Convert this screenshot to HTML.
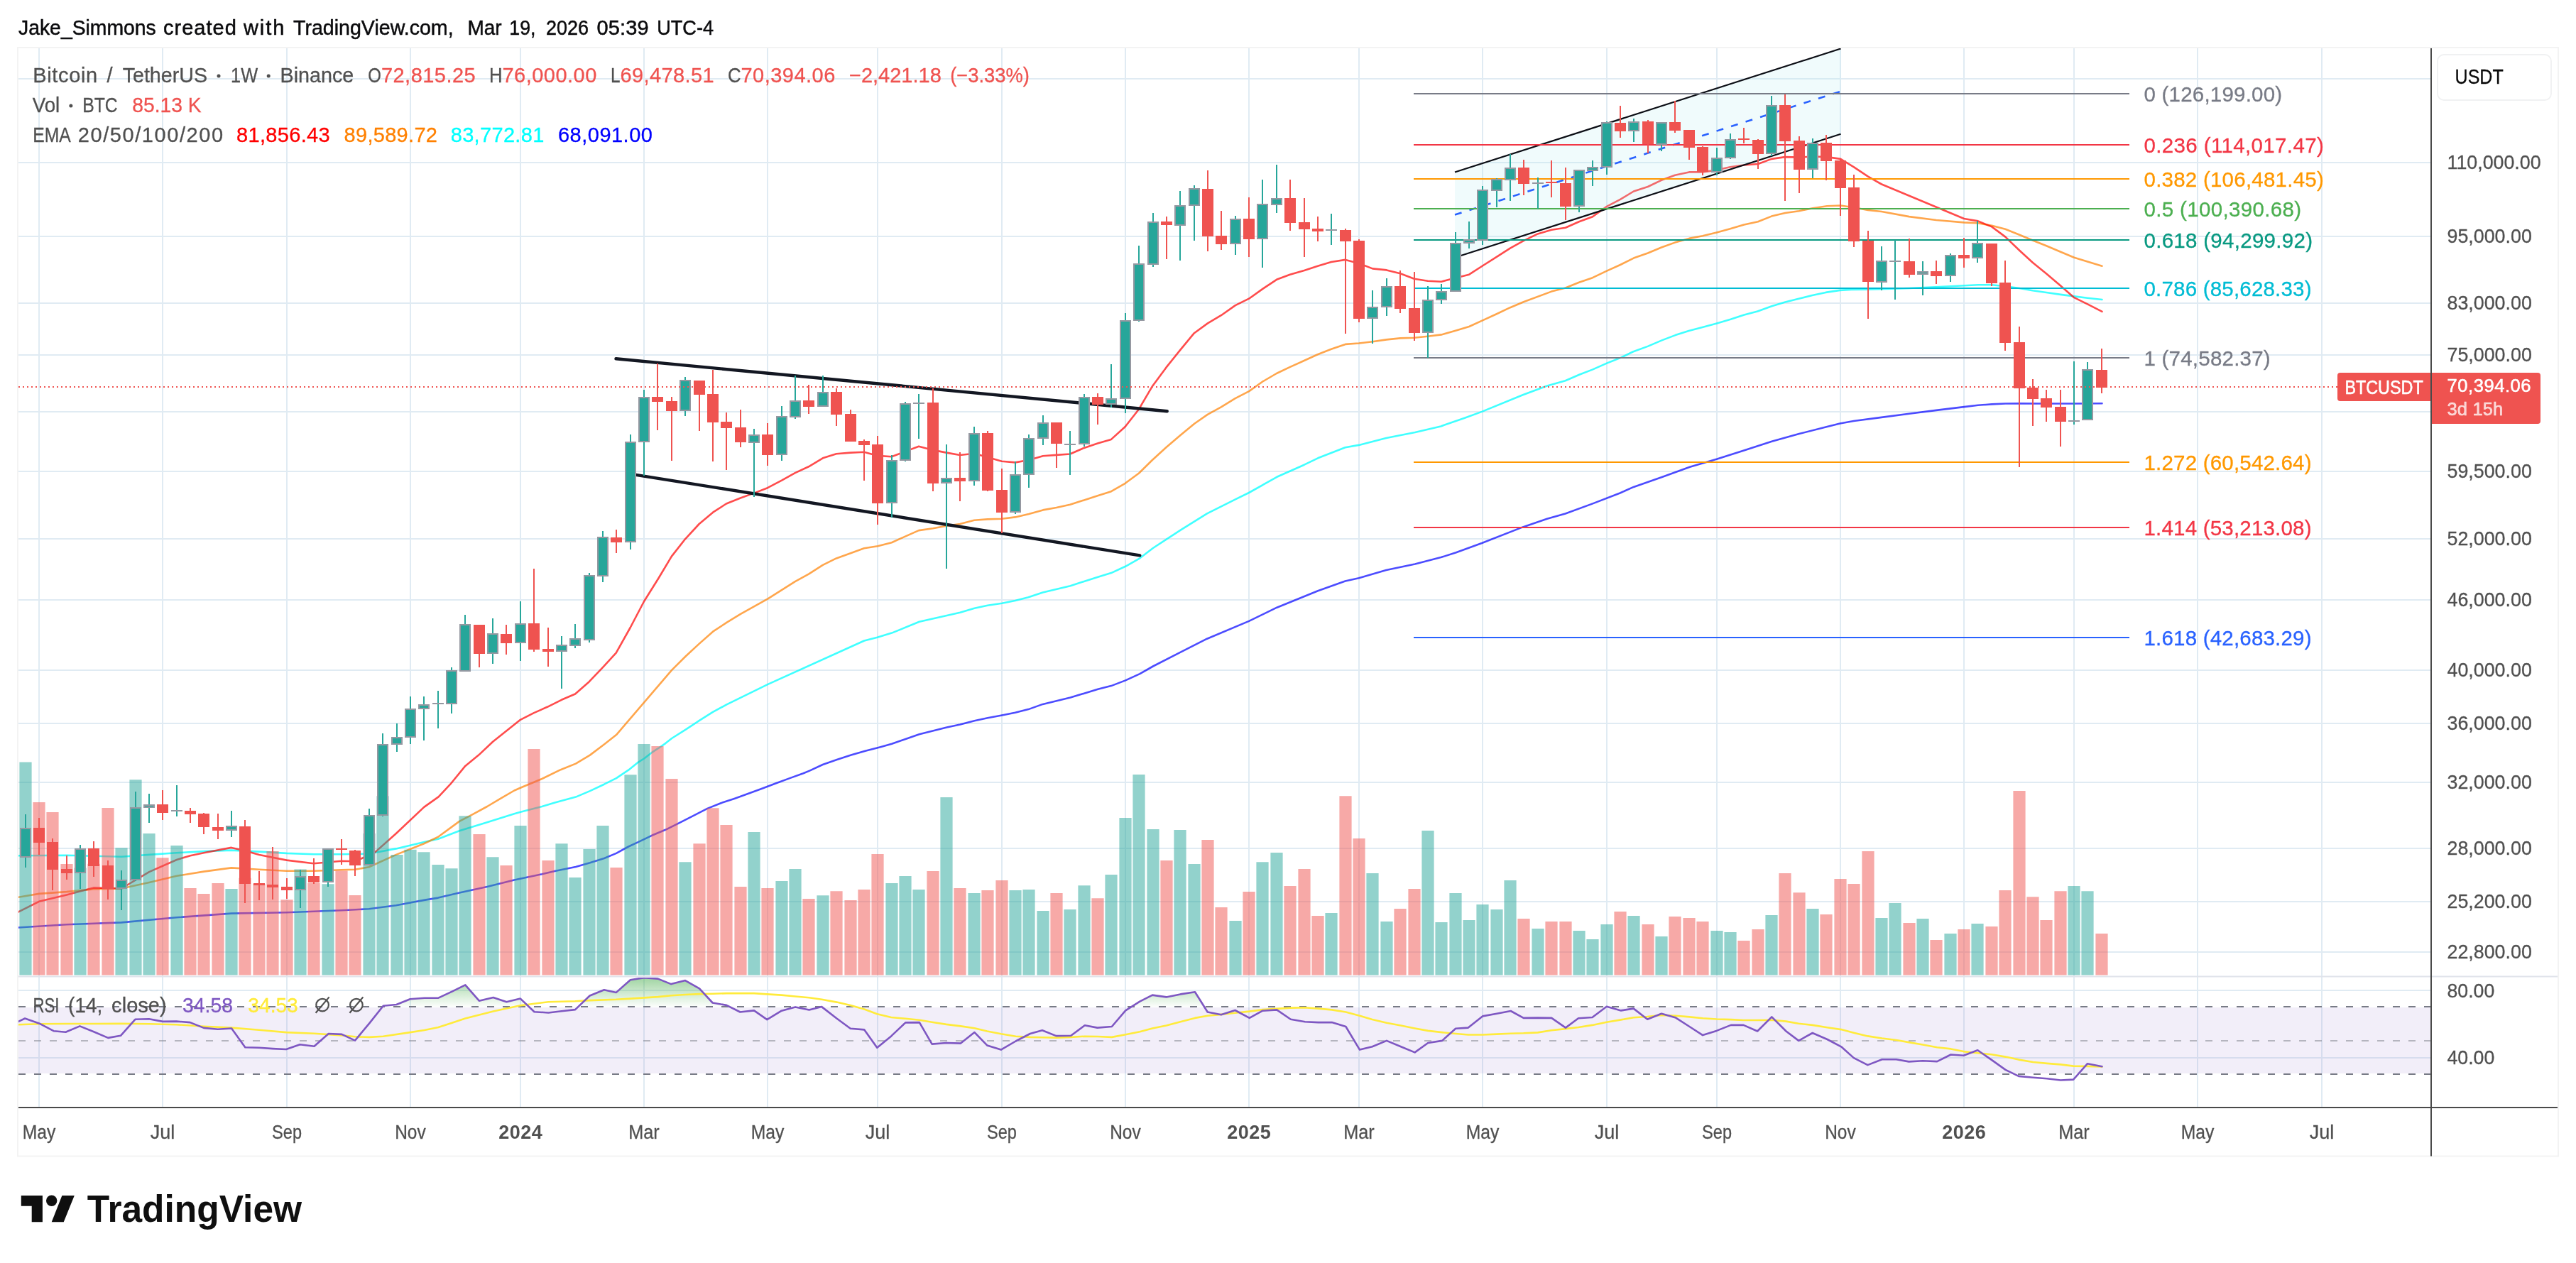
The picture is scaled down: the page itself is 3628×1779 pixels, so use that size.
<!DOCTYPE html>
<html><head><meta charset="utf-8"><title>BTCUSDT chart</title>
<style>html,body{margin:0;padding:0;background:#fff}svg{display:block;will-change:transform}</style></head>
<body>
<svg width="3628" height="1779" viewBox="0 0 3628 1779" font-family="Liberation Sans, sans-serif">
<rect width="3628" height="1779" fill="#fff"/>
<defs><clipPath id="cm"><rect x="26" y="68" width="3397" height="1307"/></clipPath><clipPath id="cr"><rect x="26" y="1377" width="3397" height="182"/></clipPath><linearGradient id="gg" x1="0" y1="1376" x2="0" y2="1418" gradientUnits="userSpaceOnUse"><stop offset="0" stop-color="#4caf50" stop-opacity="0.55"/><stop offset="1" stop-color="#4caf50" stop-opacity="0.02"/></linearGradient></defs>
<path d="M55 68V1559M229 68V1559M404 68V1559M578 68V1559M733 68V1559M907 68V1559M1081 68V1559M1236 68V1559M1411 68V1559M1585 68V1559M1759 68V1559M1914 68V1559M2088 68V1559M2263 68V1559M2418 68V1559M2592 68V1559M2766 68V1559M2921 68V1559M3095 68V1559M3270 68V1559M26 111H3423M26 229H3423M26 333H3423M26 427H3423M26 500H3423M26 580H3423M26 664H3423M26 759H3423M26 845H3423M26 944H3423M26 1019H3423M26 1102H3423M26 1195H3423M26 1270H3423M26 1341H3423M26 1395H3423M26 1490H3423" stroke="#e0ebf3" stroke-width="2" fill="none"/>
<rect x="26" y="1419" width="3397" height="93" fill="#7e57c2" fill-opacity="0.1"/>
<g clip-path="url(#cm)">
<path d="M25.7 1306.5 L93.8 1302.3 L171.0 1299.4 L248.9 1292.3 L325.8 1286.6 L403.6 1285.2 L481.2 1282.3 L519.7 1280.3 L557.9 1275.2 L598.6 1267.6 L617.1 1264.6 L647.0 1257.5 L686.1 1248.9 L724.3 1239.5 L763.3 1231.3 L782.4 1226.7 L810.9 1221.0 L830.9 1215.3 L850.9 1209.0 L868.0 1201.9 L885.1 1192.5 L899.3 1185.9 L918.1 1176.8 L937.2 1168.8 L957.2 1158.8 L976.3 1149.2 L996.2 1138.9 L1015.3 1131.2 L1034.2 1124.9 L1054.1 1117.8 L1073.2 1110.7 L1092.3 1103.5 L1112.3 1096.1 L1131.4 1089.3 L1140.2 1085.6 L1158.7 1077.0 L1178.7 1069.9 L1198.6 1063.6 L1218.6 1057.7 L1240.0 1052.2 L1255.9 1047.8 L1294.7 1034.2 L1333.5 1024.5 L1352.2 1020.5 L1372.4 1015.2 L1391.0 1011.2 L1411.2 1007.5 L1429.8 1003.7 L1448.4 999.1 L1468.6 991.9 L1507.5 982.6 L1546.3 970.8 L1564.9 966.1 L1585.1 958.4 L1605.3 949.1 L1623.9 938.5 L1662.7 918.6 L1700.0 899.7 L1759.0 874.9 L1798.4 855.7 L1856.1 832.2 L1894.6 818.5 L1913.8 814.2 L1952.3 803.1 L1992.9 794.5 L2029.3 785.1 L2050.7 778.3 L2087.0 765.0 L2144.7 742.4 L2178.9 730.8 L2204.6 723.5 L2243.1 709.4 L2281.6 694.5 L2300.8 685.9 L2341.4 671.8 L2379.9 657.7 L2418.4 646.6 L2456.9 634.2 L2495.4 621.8 L2533.9 611.1 L2572.4 601.2 L2591.4 596.5 L2610.7 593.0 L2649.8 587.9 L2688.8 582.8 L2727.0 577.9 L2766.1 573.1 L2785.8 570.8 L2805.2 569.4 L2824.3 568.5 L2844.2 568.2 L2882.1 568.5 L2921.2 568.5 L2960.5 568.2" stroke="#0000ff" stroke-width="2.6" fill="none" stroke-linejoin="round" stroke-linecap="round" stroke-opacity="0.7"/>
<path d="M25.7 1205.3 L93.8 1204.8 L171.0 1206.8 L210.1 1203.9 L248.9 1201.3 L287.1 1199.1 L325.8 1197.6 L364.9 1199.6 L403.6 1201.9 L441.8 1203.3 L481.2 1203.3 L519.7 1202.5 L557.9 1195.4 L598.6 1185.8 L617.1 1181.7 L647.0 1170.3 L686.1 1158.3 L724.3 1146.3 L734.0 1143.5 L763.3 1136.0 L782.4 1130.3 L810.9 1122.6 L830.9 1114.1 L850.9 1104.7 L868.0 1096.1 L885.1 1084.7 L899.3 1073.3 L907.1 1068.5 L918.1 1059.9 L927.6 1053.7 L937.2 1047.1 L946.1 1040.0 L966.1 1027.4 L984.6 1015.2 L1004.0 1002.9 L1023.4 992.4 L1081.5 963.9 L1217.1 902.5 L1235.7 897.8 L1255.9 891.6 L1294.7 875.8 L1333.5 867.1 L1352.2 862.7 L1372.4 856.8 L1391.0 852.8 L1411.2 849.7 L1429.8 846.0 L1448.4 841.3 L1468.6 834.5 L1507.5 825.2 L1546.3 812.7 L1564.9 807.1 L1585.1 797.8 L1605.3 786.3 L1623.9 772.0 L1662.7 746.6 L1700.0 723.3 L1740.4 703.1 L1759.0 694.0 L1798.4 671.8 L1836.8 654.7 L1856.1 645.3 L1894.6 630.3 L1913.8 626.9 L1952.3 617.1 L1992.9 608.9 L2029.3 600.4 L2063.5 588.4 L2087.0 579.9 L2144.7 556.3 L2178.9 543.5 L2204.6 536.2 L2224.8 527.5 L2242.7 520.6 L2263.0 511.6 L2282.6 503.9 L2299.7 495.5 L2320.6 487.9 L2340.5 479.4 L2359.5 472.1 L2378.5 465.9 L2398.5 460.7 L2418.0 455.4 L2437.4 449.7 L2456.4 443.6 L2475.4 438.5 L2495.3 431.3 L2514.3 425.6 L2533.3 420.8 L2552.3 416.1 L2571.3 411.9 L2591.3 408.9 L2607.4 407.9 L2630.7 407.8 L2688.8 406.0 L2747.0 403.2 L2785.8 401.2 L2805.2 401.2 L2824.3 403.2 L2844.2 406.0 L2862.7 409.2 L2882.1 412.0 L2902.1 414.9 L2921.2 417.4 L2940.0 419.7 L2960.5 422.0" stroke="#00ffff" stroke-width="2.6" fill="none" stroke-linejoin="round" stroke-linecap="round" stroke-opacity="0.75"/>
<path d="M25.7 1263.8 L55.0 1258.9 L93.8 1256.1 L131.7 1252.4 L171.0 1251.5 L210.1 1243.0 L248.9 1233.8 L287.1 1227.6 L325.8 1222.4 L364.9 1224.7 L403.6 1226.7 L441.8 1226.7 L481.2 1225.3 L500.0 1224.7 L519.7 1221.3 L557.9 1203.9 L597.2 1188.2 L616.8 1179.0 L647.0 1156.9 L666.1 1146.9 L686.1 1136.0 L705.2 1124.6 L724.3 1113.5 L734.0 1109.2 L763.3 1097.0 L789.6 1084.2 L810.9 1075.6 L830.9 1063.6 L850.9 1048.5 L868.0 1035.1 L946.1 943.9 L966.1 924.0 L984.6 906.9 L1004.0 889.7 L1023.4 876.9 L1043.0 864.9 L1081.5 843.3 L1119.8 819.2 L1138.9 808.7 L1158.8 795.8 L1177.9 786.4 L1197.9 779.3 L1217.0 772.2 L1236.1 769.3 L1255.8 764.2 L1274.9 755.6 L1294.0 747.1 L1313.9 744.2 L1333.0 740.8 L1352.1 738.0 L1372.1 732.8 L1390.9 731.4 L1410.8 730.8 L1429.9 728.4 L1449.0 724.1 L1468.9 718.4 L1487.8 715.0 L1507.1 710.7 L1526.8 704.4 L1545.9 698.2 L1565.0 692.2 L1584.7 680.8 L1604.1 666.5 L1622.9 648.0 L1642.3 630.3 L1662.2 613.2 L1682.2 596.7 L1700.7 583.9 L1719.8 573.3 L1739.7 561.1 L1759.1 551.1 L1777.9 537.7 L1797.9 526.0 L1817.0 516.9 L1836.1 508.3 L1855.8 499.2 L1874.9 491.8 L1894.8 484.9 L1913.9 483.5 L1933.0 481.2 L1952.7 478.4 L1972.1 476.4 L1991.7 475.8 L2010.9 473.7 L2030.0 471.4 L2050.0 465.7 L2069.1 460.0 L2087.9 451.4 L2107.8 442.3 L2126.9 433.2 L2145.8 425.2 L2185.1 410.6 L2204.8 405.5 L2223.9 397.8 L2243.0 391.2 L2262.9 381.6 L2282.0 373.0 L2300.8 363.6 L2320.8 356.5 L2339.9 348.5 L2359.0 341.6 L2378.9 335.9 L2398.0 332.2 L2417.7 327.4 L2436.8 322.3 L2456.2 316.6 L2475.9 312.3 L2495.0 304.6 L2514.1 300.0 L2533.7 297.2 L2553.1 293.2 L2573.1 290.3 L2592.2 289.5 L2611.0 292.3 L2630.9 296.0 L2650.0 298.0 L2688.8 305.1 L2727.0 310.0 L2766.1 313.4 L2785.8 314.3 L2805.2 317.7 L2824.3 322.8 L2844.2 330.8 L2862.7 338.5 L2882.1 346.2 L2902.1 354.7 L2921.2 362.7 L2940.0 368.4 L2960.5 374.7" stroke="#ff8000" stroke-width="2.6" fill="none" stroke-linejoin="round" stroke-linecap="round" stroke-opacity="0.7"/>
<path d="M25.7 1284.6 L55.0 1269.8 L93.8 1260.4 L131.7 1250.4 L171.0 1251.5 L210.1 1228.1 L248.9 1211.0 L268.0 1205.3 L287.1 1201.3 L325.8 1193.9 L344.9 1198.2 L364.9 1203.9 L403.6 1211.6 L441.8 1216.2 L481.2 1212.7 L500.0 1213.3 L527.4 1201.1 L557.9 1174.0 L597.2 1136.9 L617.6 1122.4 L634.2 1104.7 L655.3 1078.9 L674.1 1063.6 L694.1 1044.7 L732.9 1013.8 L752.0 1004.1 L770.8 995.8 L790.8 985.8 L810.1 977.5 L829.8 960.2 L848.9 940.2 L867.7 919.7 L887.7 884.0 L907.1 847.0 L927.6 814.2 L945.9 783.6 L965.0 759.3 L984.7 738.0 L1004.1 721.7 L1022.9 709.5 L1042.8 701.5 L1061.9 694.6 L1081.0 687.2 L1101.0 676.7 L1119.8 666.1 L1138.9 657.3 L1158.8 645.3 L1177.9 639.3 L1197.9 637.6 L1217.0 636.8 L1236.1 641.9 L1255.8 643.3 L1274.9 635.9 L1294.0 628.8 L1313.9 633.9 L1333.0 637.6 L1352.1 641.0 L1372.1 638.8 L1390.9 643.9 L1410.8 649.7 L1429.9 651.4 L1449.0 648.0 L1468.9 642.3 L1487.8 640.9 L1507.1 639.5 L1526.8 630.9 L1545.9 624.6 L1565.0 618.9 L1584.7 601.0 L1604.1 576.2 L1623.2 543.7 L1642.6 517.4 L1662.1 493.1 L1681.9 469.2 L1700.9 455.4 L1719.8 444.2 L1739.8 430.1 L1759.0 420.7 L1778.4 406.9 L1798.0 393.8 L1816.8 386.7 L1836.8 381.0 L1855.8 374.7 L1874.9 369.0 L1894.9 365.9 L1914.0 371.0 L1933.1 378.4 L1952.8 380.4 L1972.2 385.3 L1991.8 392.7 L2010.9 395.8 L2030.0 396.7 L2050.0 391.6 L2069.1 386.7 L2087.9 374.5 L2107.8 361.9 L2126.9 349.7 L2145.8 339.1 L2165.7 329.4 L2185.1 323.7 L2204.8 320.8 L2223.9 312.3 L2243.0 305.2 L2262.9 290.9 L2282.0 280.9 L2300.8 269.5 L2320.8 263.0 L2339.9 253.8 L2359.0 246.7 L2378.9 242.4 L2398.0 242.4 L2417.7 239.6 L2436.8 235.3 L2456.2 232.5 L2475.9 231.0 L2495.0 223.9 L2514.1 221.1 L2533.7 221.6 L2553.1 220.5 L2573.1 221.1 L2592.2 223.9 L2611.0 235.3 L2630.9 248.7 L2650.0 259.5 L2766.1 308.0 L2785.8 311.4 L2805.2 319.4 L2824.3 333.6 L2844.2 352.7 L2862.7 369.8 L2882.1 385.5 L2902.1 402.6 L2921.2 419.2 L2940.0 428.3 L2960.5 438.8" stroke="#ff0000" stroke-width="2.6" fill="none" stroke-linejoin="round" stroke-linecap="round" stroke-opacity="0.7"/>
<path d="M2049 242.5L2592.5 68.5L2592.5 188.8L2049 362.7Z" fill="#b2ebf2" fill-opacity="0.2"/>
<path d="M2049 242.5L2592.5 68.5M2049 362.7L2592.5 188.8" stroke="#0c0e15" stroke-width="2.2" fill="none"/>
<path d="M2049 302.6L2592.5 128.65" stroke="#2962ff" stroke-width="2.6" stroke-dasharray="10 11.5" fill="none"/>
<path d="M1991 132H2999" stroke="#787b86" stroke-width="2" fill="none"/>
<path d="M1991 204H2999" stroke="#f23645" stroke-width="2" fill="none"/>
<path d="M1991 252H2999" stroke="#ff9800" stroke-width="2" fill="none"/>
<path d="M1991 294H2999" stroke="#4caf50" stroke-width="2" fill="none"/>
<path d="M1991 338H2999" stroke="#089981" stroke-width="2" fill="none"/>
<path d="M1991 406H2999" stroke="#00bcd4" stroke-width="2" fill="none"/>
<path d="M1991 504H2999" stroke="#787b86" stroke-width="2" fill="none"/>
<path d="M1991 651H2999" stroke="#ff9800" stroke-width="2" fill="none"/>
<path d="M1991 743H2999" stroke="#f23645" stroke-width="2" fill="none"/>
<path d="M1991 898H2999" stroke="#2962ff" stroke-width="2" fill="none"/>
<path d="M867.5 505.3L1643.7 579.2M895.6 668.8L1605.3 782.4" stroke="#131722" stroke-width="4.4" stroke-linecap="round" fill="none"/>
<path d="M27.40 1073.4H44.60V1373.5H27.40ZM104.40 1222.4H121.60V1373.5H104.40ZM162.40 1194.2H179.60V1373.5H162.40ZM182.40 1098.2H199.60V1373.5H182.40ZM201.40 1174.0H218.60V1373.5H201.40ZM240.40 1191.1H257.60V1373.5H240.40ZM317.40 1252.1H334.60V1373.5H317.40ZM414.40 1224.4H431.60V1373.5H414.40ZM453.40 1245.2H470.60V1373.5H453.40ZM511.40 1174.0H528.60V1373.5H511.40ZM530.40 1121.2H547.60V1373.5H530.40ZM550.40 1203.9H567.60V1373.5H550.40ZM569.40 1196.8H586.60V1373.5H569.40ZM588.40 1200.2H605.60V1373.5H588.40ZM608.40 1218.1H625.60V1373.5H608.40ZM627.40 1223.3H644.60V1373.5H627.40ZM646.40 1149.2H663.60V1373.5H646.40ZM685.40 1207.3H702.60V1373.5H685.40ZM724.40 1163.1H741.60V1373.5H724.40ZM782.40 1188.2H799.60V1373.5H782.40ZM801.40 1236.1H818.60V1373.5H801.40ZM821.40 1195.9H838.60V1373.5H821.40ZM840.40 1163.1H857.60V1373.5H840.40ZM879.40 1091.3H896.60V1373.5H879.40ZM898.40 1048.0H915.60V1373.5H898.40ZM956.40 1214.2H973.60V1373.5H956.40ZM1053.40 1172.0H1070.60V1373.5H1053.40ZM1092.40 1240.9H1109.60V1373.5H1092.40ZM1111.40 1224.1H1128.60V1373.5H1111.40ZM1150.40 1261.2H1167.60V1373.5H1150.40ZM1247.40 1244.1H1264.60V1373.5H1247.40ZM1266.40 1234.1H1283.60V1373.5H1266.40ZM1285.40 1252.9H1302.60V1373.5H1285.40ZM1324.40 1122.9H1341.60V1373.5H1324.40ZM1363.40 1258.1H1380.60V1373.5H1363.40ZM1421.40 1254.1H1438.60V1373.5H1421.40ZM1440.40 1252.9H1457.60V1373.5H1440.40ZM1460.40 1283.1H1477.60V1373.5H1460.40ZM1498.40 1281.1H1515.60V1373.5H1498.40ZM1518.40 1247.2H1535.60V1373.5H1518.40ZM1556.40 1232.1H1573.60V1373.5H1556.40ZM1576.40 1152.0H1593.60V1373.5H1576.40ZM1595.40 1091.0H1612.60V1373.5H1595.40ZM1615.40 1168.0H1632.60V1373.5H1615.40ZM1653.40 1169.1H1670.60V1373.5H1653.40ZM1673.40 1217.0H1690.60V1373.5H1673.40ZM1731.40 1297.1H1748.60V1373.5H1731.40ZM1769.40 1214.2H1786.60V1373.5H1769.40ZM1789.40 1201.0H1806.60V1373.5H1789.40ZM1866.40 1286.0H1883.60V1373.5H1866.40ZM1924.40 1230.1H1941.60V1373.5H1924.40ZM1944.40 1298.0H1961.60V1373.5H1944.40ZM2002.40 1170.0H2019.60V1373.5H2002.40ZM2021.40 1299.1H2038.60V1373.5H2021.40ZM2041.40 1258.1H2058.60V1373.5H2041.40ZM2060.40 1296.0H2077.60V1373.5H2060.40ZM2079.40 1274.0H2096.60V1373.5H2079.40ZM2099.40 1281.1H2116.60V1373.5H2099.40ZM2118.40 1240.1H2135.60V1373.5H2118.40ZM2157.40 1307.9H2174.60V1373.5H2157.40ZM2215.40 1311.1H2232.60V1373.5H2215.40ZM2234.40 1323.0H2251.60V1373.5H2234.40ZM2254.40 1301.9H2271.60V1373.5H2254.40ZM2292.40 1290.0H2309.60V1373.5H2292.40ZM2331.40 1319.1H2348.60V1373.5H2331.40ZM2409.40 1311.1H2426.60V1373.5H2409.40ZM2428.40 1313.1H2445.60V1373.5H2428.40ZM2486.40 1289.1H2503.60V1373.5H2486.40ZM2544.40 1280.0H2561.60V1373.5H2544.40ZM2641.40 1293.1H2658.60V1373.5H2641.40ZM2660.40 1272.0H2677.60V1373.5H2660.40ZM2699.40 1294.0H2716.60V1373.5H2699.40ZM2738.40 1315.1H2755.60V1373.5H2738.40ZM2776.40 1301.1H2793.60V1373.5H2776.40ZM2912.40 1248.1H2929.60V1373.5H2912.40ZM2931.40 1255.2H2948.60V1373.5H2931.40Z" fill="#26a69a" fill-opacity="0.5"/>
<path d="M46.40 1130.1H63.60V1373.5H46.40ZM65.40 1144.0H82.60V1373.5H65.40ZM85.40 1217.0H102.60V1373.5H85.40ZM123.40 1216.7H140.60V1373.5H123.40ZM143.40 1138.1H160.60V1373.5H143.40ZM220.40 1208.2H237.60V1373.5H220.40ZM259.40 1250.9H276.60V1373.5H259.40ZM278.40 1258.9H295.60V1373.5H278.40ZM298.40 1244.1H315.60V1373.5H298.40ZM336.40 1236.7H353.60V1373.5H336.40ZM356.40 1245.2H373.60V1373.5H356.40ZM375.40 1199.1H392.60V1373.5H375.40ZM395.40 1267.2H412.60V1373.5H395.40ZM433.40 1244.1H450.60V1373.5H433.40ZM472.40 1226.4H489.60V1373.5H472.40ZM491.40 1260.9H508.60V1373.5H491.40ZM666.40 1175.1H683.60V1373.5H666.40ZM704.40 1219.0H721.60V1373.5H704.40ZM743.40 1055.1H760.60V1373.5H743.40ZM763.40 1211.9H780.60V1373.5H763.40ZM859.40 1222.1H876.60V1373.5H859.40ZM917.40 1051.1H934.60V1373.5H917.40ZM937.40 1097.0H954.60V1373.5H937.40ZM976.40 1188.2H993.60V1373.5H976.40ZM995.40 1138.3H1012.60V1373.5H995.40ZM1014.40 1162.0H1031.60V1373.5H1014.40ZM1034.40 1248.9H1051.60V1373.5H1034.40ZM1072.40 1250.9H1089.60V1373.5H1072.40ZM1130.40 1266.0H1147.60V1373.5H1130.40ZM1169.40 1255.2H1186.60V1373.5H1169.40ZM1189.40 1268.0H1206.60V1373.5H1189.40ZM1208.40 1252.9H1225.60V1373.5H1208.40ZM1227.40 1203.0H1244.60V1373.5H1227.40ZM1305.40 1227.0H1322.60V1373.5H1305.40ZM1343.40 1250.9H1360.60V1373.5H1343.40ZM1382.40 1254.1H1399.60V1373.5H1382.40ZM1402.40 1240.1H1419.60V1373.5H1402.40ZM1479.40 1258.1H1496.60V1373.5H1479.40ZM1537.40 1265.2H1554.60V1373.5H1537.40ZM1634.40 1211.9H1651.60V1373.5H1634.40ZM1692.40 1183.1H1709.60V1373.5H1692.40ZM1711.40 1278.0H1728.60V1373.5H1711.40ZM1750.40 1256.1H1767.60V1373.5H1750.40ZM1808.40 1248.1H1825.60V1373.5H1808.40ZM1828.40 1224.1H1845.60V1373.5H1828.40ZM1847.40 1290.0H1864.60V1373.5H1847.40ZM1886.40 1121.2H1903.60V1373.5H1886.40ZM1905.40 1181.1H1922.60V1373.5H1905.40ZM1963.40 1280.0H1980.60V1373.5H1963.40ZM1983.40 1252.1H2000.60V1373.5H1983.40ZM2137.40 1294.0H2154.60V1373.5H2137.40ZM2176.40 1298.0H2193.60V1373.5H2176.40ZM2196.40 1298.0H2213.60V1373.5H2196.40ZM2273.40 1284.0H2290.60V1373.5H2273.40ZM2312.40 1301.9H2329.60V1373.5H2312.40ZM2350.40 1291.1H2367.60V1373.5H2350.40ZM2370.40 1293.1H2387.60V1373.5H2370.40ZM2389.40 1298.0H2406.60V1373.5H2389.40ZM2447.40 1325.0H2464.60V1373.5H2447.40ZM2467.40 1309.1H2484.60V1373.5H2467.40ZM2505.40 1230.1H2522.60V1373.5H2505.40ZM2525.40 1257.2H2542.60V1373.5H2525.40ZM2563.40 1288.0H2580.60V1373.5H2563.40ZM2583.40 1238.1H2600.60V1373.5H2583.40ZM2602.40 1244.9H2619.60V1373.5H2602.40ZM2622.40 1199.0H2639.60V1373.5H2622.40ZM2680.40 1300.0H2697.60V1373.5H2680.40ZM2718.40 1323.9H2735.60V1373.5H2718.40ZM2757.40 1309.1H2774.60V1373.5H2757.40ZM2796.40 1305.1H2813.60V1373.5H2796.40ZM2815.40 1254.1H2832.60V1373.5H2815.40ZM2835.40 1114.1H2852.60V1373.5H2835.40ZM2854.40 1263.2H2871.60V1373.5H2854.40ZM2873.40 1296.0H2890.60V1373.5H2873.40ZM2893.40 1255.2H2910.60V1373.5H2893.40ZM2951.40 1315.1H2968.60V1373.5H2951.40Z" fill="#ef5350" fill-opacity="0.5"/>
<path d="M35 1147H37V1222H35ZM112 1190H114V1252H112ZM170 1226H172V1282H170ZM190 1115H192V1241H190ZM209 1118H211V1159H209ZM248 1106H250V1150H248ZM325 1142H327V1179H325ZM422 1225H424V1279H422ZM461 1195H463V1249H461ZM519 1139H521V1219H519ZM538 1033H540V1150H538ZM558 1019H560V1059H558ZM577 981H579V1048H577ZM596 981H598V1043H596ZM616 973H618V1026H616ZM635 940H637V1005H635ZM654 866H656V945H654ZM693 871H695V935H693ZM732 847H734V931H732ZM790 896H792V970H790ZM809 879H811V913H809ZM829 807H831V905H829ZM848 748H850V820H848ZM887 612H889V774H887ZM906 549H908V670H906ZM964 531H966V586H964ZM1061 604H1063V700H1061ZM1100 572H1102V649H1100ZM1119 529H1121V590H1119ZM1158 529H1160V572H1158ZM1255 641H1257V729H1255ZM1274 566H1276V650H1274ZM1293 555H1295V618H1293ZM1332 626H1334V801H1332ZM1371 601H1373V684H1371ZM1429 650H1431V724H1429ZM1448 612H1450V687H1448ZM1468 585H1470V627H1468ZM1506 607H1508V669H1506ZM1526 555H1528V629H1526ZM1564 513H1566V574H1564ZM1584 441H1586V582H1584ZM1603 346H1605V453H1603ZM1623 300H1625V376H1623ZM1661 269H1663V367H1661ZM1681 261H1683V339H1681ZM1739 304H1741V359H1739ZM1777 253H1779V377H1777ZM1797 232H1799V300H1797ZM1874 301H1876V345H1874ZM1932 409H1934V484H1932ZM1952 392H1954V445H1952ZM2010 403H2012V504H2010ZM2029 400H2031V428H2029ZM2049 327H2051V411H2049ZM2068 312H2070V350H2068ZM2087 262H2089V345H2087ZM2107 251H2109V292H2107ZM2126 217H2128V283H2126ZM2165 250H2167V294H2165ZM2223 239H2225V299H2223ZM2242 226H2244V262H2242ZM2262 171H2264V246H2262ZM2300 167H2302V200H2300ZM2339 173H2341V213H2339ZM2417 208H2419V247H2417ZM2436 188H2438V224H2436ZM2494 135H2496V220H2494ZM2552 195H2554V251H2552ZM2649 347H2651V409H2649ZM2668 338H2670V422H2668ZM2707 368H2709V416H2707ZM2746 357H2748V397H2746ZM2784 311H2786V370H2784ZM2920 509H2922V598H2920ZM2939 510H2941V591H2939Z" fill="#26a69a"/>
<path d="M54 1152H56V1204H54ZM73 1181H75V1254H73ZM93 1205H95V1239H93ZM131 1185H133V1235H131ZM151 1212H153V1267H151ZM228 1113H230V1155H228ZM267 1138H269V1159H267ZM286 1145H288V1175H286ZM306 1146H308V1182H306ZM344 1155H346V1272H344ZM364 1227H366V1268H364ZM383 1193H385V1267H383ZM403 1237H405V1266H403ZM441 1209H443V1245H441ZM480 1182H482V1218H480ZM499 1197H501V1234H499ZM674 880H676V940H674ZM712 880H714V922H712ZM751 801H753V918H751ZM771 884H773V939H771ZM867 746H869V779H867ZM925 512H927V606H925ZM945 559H947V649H945ZM984 536H986V607H984ZM1003 521H1005V650H1003ZM1022 581H1024V662H1022ZM1042 577H1044V630H1042ZM1080 596H1082V656H1080ZM1138 542H1140V583H1138ZM1177 547H1179V600H1177ZM1197 577H1199V622H1197ZM1216 619H1218V677H1216ZM1235 614H1237V739H1235ZM1313 547H1315V692H1313ZM1351 637H1353V706H1351ZM1390 607H1392V692H1390ZM1410 660H1412V751H1410ZM1487 595H1489V659H1487ZM1545 554H1547V598H1545ZM1642 305H1644V365H1642ZM1700 240H1702V354H1700ZM1719 297H1721V352H1719ZM1758 278H1760V362H1758ZM1816 253H1818V325H1816ZM1836 279H1838V362H1836ZM1855 305H1857V340H1855ZM1894 322H1896V470H1894ZM1913 337H1915V454H1913ZM1971 381H1973V441H1971ZM1991 383H1993V480H1991ZM2145 225H2147V275H2145ZM2184 226H2186V278H2184ZM2204 236H2206V310H2204ZM2281 149H2283V194H2281ZM2320 169H2322V216H2320ZM2358 142H2360V187H2358ZM2378 183H2380V225H2378ZM2397 206H2399V247H2397ZM2455 180H2457V202H2455ZM2475 196H2477V238H2475ZM2513 133H2515V283H2513ZM2533 192H2535V272H2533ZM2571 190H2573V254H2571ZM2591 225H2593V304H2591ZM2610 246H2612V348H2610ZM2630 325H2632V449H2630ZM2688 336H2690V391H2688ZM2726 367H2728V400H2726ZM2765 335H2767V377H2765ZM2804 343H2806V403H2804ZM2823 367H2825V494H2823ZM2843 460H2845V658H2843ZM2862 534H2864V600H2862ZM2881 549H2883V594H2881ZM2901 549H2903V629H2901ZM2959 491H2961V554H2959Z" fill="#ef5350"/>
<path d="M47 1166H63V1187H47ZM66 1186H82V1225H66ZM86 1224H102V1230H86ZM124 1195H140V1220H124ZM144 1219H160V1252H144ZM221 1133H237V1145H221ZM260 1142H276V1147H260ZM279 1146H295V1165H279ZM299 1165H315V1170H299ZM337 1164H353V1245H337ZM357 1244H373V1247H357ZM376 1246H392V1250H376ZM396 1249H412V1254H396ZM434 1234H450V1243H434ZM473 1195H489V1197H473ZM492 1198H508V1219H492ZM667 880H683V921H667ZM705 893H721V906H705ZM744 878H760V915H744ZM764 914H780V918H764ZM860 757H876V764H860ZM918 559H934V566H918ZM938 565H954V579H938ZM977 536H993V556H977ZM996 555H1012V595H996ZM1015 594H1031V603H1015ZM1035 602H1051V623H1035ZM1073 612H1089V641H1073ZM1131 564H1147V573H1131ZM1170 552H1186V584H1170ZM1190 583H1206V622H1190ZM1209 621H1225V627H1209ZM1228 626H1244V709H1228ZM1306 567H1322V681H1306ZM1344 673H1360V678H1344ZM1383 610H1399V691H1383ZM1403 690H1419V722H1403ZM1480 595H1496V625H1480ZM1538 559H1554V570H1538ZM1635 312H1651V317H1635ZM1693 266H1709V333H1693ZM1712 332H1728V344H1712ZM1751 308H1767V337H1751ZM1809 279H1825V314H1809ZM1829 313H1845V323H1829ZM1848 322H1864V326H1848ZM1887 324H1903V340H1887ZM1906 339H1922V449H1906ZM1964 403H1980V435H1964ZM1984 434H2000V469H1984ZM2138 236H2154V259H2138ZM2177 256H2193V258H2177ZM2197 258H2213V291H2197ZM2274 173H2290V185H2274ZM2313 171H2329V203H2313ZM2351 172H2367V184H2351ZM2371 183H2387V208H2371ZM2390 207H2406V242H2390ZM2448 195H2464V197H2448ZM2468 197H2484V217H2468ZM2506 148H2522V199H2506ZM2526 198H2542V239H2526ZM2564 201H2580V227H2564ZM2584 226H2600V265H2584ZM2603 264H2619V340H2603ZM2623 339H2639V397H2623ZM2681 368H2697V387H2681ZM2719 382H2735V389H2719ZM2758 359H2774V364H2758ZM2797 343H2813V399H2797ZM2816 398H2832V483H2816ZM2836 482H2852V547H2836ZM2855 546H2871V562H2855ZM2874 561H2890V574H2874ZM2894 573H2910V594H2894ZM2952 521H2968V546H2952Z" fill="#ef5350"/>
<path d="M28 1166H44V1208H28ZM105 1195H121V1230H105ZM163 1239H179V1252H163ZM183 1137H199V1240H183ZM202 1133H218V1138H202ZM241 1141H257V1143H241ZM318 1163H334V1170H318ZM415 1234H431V1254H415ZM454 1195H470V1243H454ZM512 1148H528V1219H512ZM531 1048H547V1149H531ZM551 1038H567V1049H551ZM570 998H586V1039H570ZM589 992H605V999H589ZM609 990H625V992H609ZM628 944H644V992H628ZM647 879H663V946H647ZM686 892H702V921H686ZM725 878H741V906H725ZM783 908H799V918H783ZM802 899H818V910H802ZM822 810H838V902H822ZM841 756H857V812H841ZM880 622H896V764H880ZM899 559H915V623H899ZM957 535H973V579H957ZM1054 612H1070V624H1054ZM1093 586H1109V641H1093ZM1112 564H1128V588H1112ZM1151 552H1167V573H1151ZM1248 648H1264V709H1248ZM1267 568H1283V649H1267ZM1286 567H1302V569H1286ZM1325 673H1341V681H1325ZM1364 610H1380V678H1364ZM1422 668H1438V722H1422ZM1441 617H1457V669H1441ZM1461 595H1477V618H1461ZM1499 625H1515V627H1499ZM1519 559H1535V626H1519ZM1557 561H1573V570H1557ZM1577 451H1593V562H1577ZM1596 371H1612V452H1596ZM1616 312H1632V373H1616ZM1654 289H1670V318H1654ZM1674 265H1690V290H1674ZM1732 308H1748V344H1732ZM1770 287H1786V337H1770ZM1790 279H1806V289H1790ZM1867 323H1883V325H1867ZM1925 432H1941V449H1925ZM1945 403H1961V433H1945ZM2003 422H2019V469H2003ZM2022 410H2038V423H2022ZM2042 342H2058V411H2042ZM2061 337H2077V343H2061ZM2080 267H2096V339H2080ZM2100 252H2116V269H2100ZM2119 236H2135V254H2119ZM2158 257H2174V259H2158ZM2216 239H2232V291H2216ZM2235 235H2251V241H2235ZM2255 172H2271V236H2255ZM2293 171H2309V185H2293ZM2332 172H2348V204H2332ZM2410 222H2426V243H2410ZM2429 196H2445V223H2429ZM2487 148H2503V217H2487ZM2545 201H2561V239H2545ZM2642 367H2658V398H2642ZM2661 367H2677V369H2661ZM2700 382H2716V387H2700ZM2739 359H2755V389H2739ZM2777 342H2793V364H2777ZM2913 592H2929V594H2913ZM2932 520H2948V592H2932Z" fill="#9598a1"/>
<path d="M30 1168H42V1206H30ZM107 1197H119V1228H107ZM165 1241H177V1250H165ZM185 1139H197V1238H185ZM204 1135H216V1136H204ZM320 1165H332V1168H320ZM417 1236H429V1252H417ZM456 1197H468V1241H456ZM514 1150H526V1217H514ZM533 1050H545V1147H533ZM553 1040H565V1047H553ZM572 1000H584V1037H572ZM591 994H603V997H591ZM630 946H642V990H630ZM649 881H661V944H649ZM688 894H700V919H688ZM727 880H739V904H727ZM785 910H797V916H785ZM804 901H816V908H804ZM824 812H836V900H824ZM843 758H855V810H843ZM882 624H894V762H882ZM901 561H913V621H901ZM959 537H971V577H959ZM1056 614H1068V622H1056ZM1095 588H1107V639H1095ZM1114 566H1126V586H1114ZM1153 554H1165V571H1153ZM1250 650H1262V707H1250ZM1269 570H1281V647H1269ZM1327 675H1339V679H1327ZM1366 612H1378V676H1366ZM1424 670H1436V720H1424ZM1443 619H1455V667H1443ZM1463 597H1475V616H1463ZM1521 561H1533V624H1521ZM1559 563H1571V568H1559ZM1579 453H1591V560H1579ZM1598 373H1610V450H1598ZM1618 314H1630V371H1618ZM1656 291H1668V316H1656ZM1676 267H1688V288H1676ZM1734 310H1746V342H1734ZM1772 289H1784V335H1772ZM1792 281H1804V287H1792ZM1927 434H1939V447H1927ZM1947 405H1959V431H1947ZM2005 424H2017V467H2005ZM2024 412H2036V421H2024ZM2044 344H2056V409H2044ZM2063 339H2075V341H2063ZM2082 269H2094V337H2082ZM2102 254H2114V267H2102ZM2121 238H2133V252H2121ZM2218 241H2230V289H2218ZM2237 237H2249V239H2237ZM2257 174H2269V234H2257ZM2295 173H2307V183H2295ZM2334 174H2346V202H2334ZM2412 224H2424V241H2412ZM2431 198H2443V221H2431ZM2489 150H2501V215H2489ZM2547 203H2559V237H2547ZM2644 369H2656V396H2644ZM2702 384H2714V385H2702ZM2741 361H2753V387H2741ZM2779 344H2791V362H2779ZM2934 522H2946V590H2934Z" fill="#26a69a"/>
</g>
<path d="M26 545H3292" stroke="#ef5350" stroke-width="2" stroke-dasharray="2 4" fill="none"/>
<g clip-path="url(#cr)">
<path d="M538.8 1418.0 L539.8 1416.8 L558.4 1415.0 L577.6 1407.2 L597.8 1405.7 L617.4 1405.7 L636.6 1396.6 L655.3 1387.3 L674.8 1409.7 L694.7 1405.0 L713.4 1411.2 L732.9 1406.6 L744.9 1418.0Z" fill="url(#gg)"/>
<path d="M814.4 1418.0 L830.6 1402.5 L850.8 1394.2 L867.9 1397.9 L887.8 1380.2 L907.3 1377.1 L926.6 1378.6 L945.2 1386.1 L965.1 1381.1 L985.0 1392.3 L1003.6 1412.5 L1023.2 1415.9 L1027.4 1418.0Z" fill="url(#gg)"/>
<path d="M1593.6 1418.0 L1605.3 1410.6 L1623.0 1401.6 L1642.6 1404.4 L1662.5 1400.4 L1683.0 1397.3 L1696.0 1418.0Z" fill="url(#gg)"/>
<path d="M2262.5 1418.0 L2262.8 1417.8 L2263.6 1418.0Z" fill="url(#gg)"/>
<path d="M26 1418H3423M26 1513H3423" stroke="#787b86" stroke-width="2" stroke-dasharray="10 12" fill="none"/>
<path d="M26 1466H3423" stroke="#787b86" stroke-opacity="0.5" stroke-width="2" stroke-dasharray="10 12" fill="none"/>
<path d="M25.5 1443.2 L55.0 1442.3 L93.2 1442.0 L132.0 1442.0 L169.9 1441.7 L209.9 1442.3 L248.4 1443.2 L287.0 1445.7 L326.1 1447.6 L364.9 1450.7 L403.1 1454.1 L442.5 1455.7 L481.4 1458.4 L500.0 1460.3 L520.2 1460.9 L539.8 1459.7 L577.6 1454.1 L597.8 1451.0 L617.4 1447.0 L636.6 1440.7 L655.3 1434.5 L694.7 1424.6 L732.9 1416.2 L772.4 1411.2 L810.1 1410.3 L830.6 1409.1 L867.9 1407.8 L887.8 1406.6 L926.6 1404.1 L945.2 1402.2 L965.1 1401.0 L985.0 1400.1 L1003.6 1399.8 L1023.2 1399.1 L1042.4 1399.1 L1062.0 1399.1 L1080.3 1400.4 L1100.8 1401.6 L1120.1 1403.5 L1139.6 1405.3 L1157.3 1407.8 L1178.4 1411.6 L1197.7 1415.9 L1217.3 1421.5 L1235.3 1428.3 L1255.2 1433.0 L1275.3 1434.8 L1294.9 1436.7 L1312.6 1439.8 L1332.8 1442.9 L1353.0 1445.4 L1372.5 1448.2 L1390.2 1452.5 L1409.8 1456.3 L1430.6 1459.7 L1450.8 1460.9 L1467.9 1461.2 L1487.5 1461.6 L1508.3 1460.9 L1527.8 1459.7 L1545.5 1460.0 L1565.9 1460.9 L1585.2 1457.2 L1605.3 1453.2 L1623.0 1448.5 L1642.6 1444.5 L1662.5 1439.2 L1683.0 1433.9 L1700.7 1430.8 L1719.9 1428.9 L1739.5 1426.8 L1759.7 1424.6 L1778.3 1422.1 L1798.2 1420.9 L1817.8 1419.6 L1838.0 1419.3 L1856.6 1420.6 L1875.8 1422.4 L1895.4 1425.5 L1915.0 1430.8 L1932.7 1436.1 L1952.9 1440.7 L1973.0 1444.5 L1992.6 1448.5 L2011.2 1451.9 L2031.1 1454.1 L2050.1 1456.0 L2067.8 1457.5 L2088.0 1457.5 L2108.1 1456.6 L2127.7 1455.7 L2145.7 1455.3 L2165.6 1454.4 L2185.2 1451.3 L2205.0 1449.1 L2223.0 1447.0 L2242.6 1443.9 L2262.8 1439.8 L2283.0 1436.4 L2300.7 1433.3 L2320.2 1432.0 L2340.0 1429.9 L2360.2 1430.8 L2379.4 1432.4 L2398.1 1434.2 L2417.6 1435.5 L2437.8 1436.1 L2455.5 1437.0 L2475.1 1437.0 L2495.3 1436.7 L2515.5 1438.6 L2533.2 1441.7 L2552.7 1443.9 L2573.5 1447.3 L2593.1 1450.1 L2610.8 1454.7 L2630.4 1459.4 L2650.6 1462.5 L2670.7 1465.0 L2688.4 1468.1 L2708.0 1471.5 L2728.2 1475.2 L2747.5 1477.4 L2765.5 1481.1 L2785.3 1483.3 L2804.9 1485.2 L2824.5 1488.6 L2843.1 1492.6 L2863.3 1496.0 L2882.9 1497.9 L2902.1 1499.4 L2920.1 1501.6 L2940.0 1501.9 L2960.5 1502.5" stroke="#ffeb3b" stroke-width="2.6" fill="none" stroke-linejoin="round" stroke-linecap="round" />
<path d="M25.5 1439.2 L35.1 1434.5 L55.0 1441.4 L75.5 1452.2 L92.5 1453.8 L112.4 1445.4 L132.0 1453.2 L152.2 1461.9 L169.9 1458.8 L190.4 1435.8 L209.9 1435.2 L229.2 1438.9 L248.4 1438.6 L267.7 1440.1 L287.0 1447.9 L306.8 1449.8 L326.1 1448.5 L345.3 1475.2 L364.9 1475.8 L384.2 1477.1 L403.1 1478.0 L422.4 1471.2 L442.5 1473.7 L462.7 1456.0 L481.4 1456.9 L500.0 1465.6 L520.2 1441.4 L539.8 1416.8 L558.4 1415.0 L577.6 1407.2 L597.8 1405.7 L617.4 1405.7 L636.6 1396.6 L655.3 1387.3 L674.8 1409.7 L694.7 1405.0 L713.4 1411.2 L732.9 1406.6 L752.5 1425.2 L772.4 1426.5 L790.9 1424.3 L810.1 1422.1 L830.6 1402.5 L850.8 1394.2 L867.9 1397.9 L887.8 1380.2 L907.3 1377.1 L926.6 1378.6 L945.2 1386.1 L965.1 1381.1 L985.0 1392.3 L1003.6 1412.5 L1023.2 1415.9 L1042.4 1425.5 L1062.0 1423.4 L1080.3 1436.1 L1100.8 1423.7 L1120.1 1418.4 L1139.6 1422.4 L1157.3 1418.1 L1178.4 1434.5 L1197.7 1448.8 L1217.3 1450.4 L1235.3 1475.8 L1255.2 1459.4 L1275.3 1440.4 L1294.9 1440.1 L1312.6 1470.6 L1332.8 1469.0 L1353.0 1469.6 L1372.5 1454.1 L1390.2 1472.4 L1409.8 1478.6 L1430.6 1466.5 L1450.8 1456.0 L1467.9 1451.3 L1487.5 1459.1 L1508.3 1458.8 L1527.8 1444.2 L1545.5 1447.6 L1565.9 1446.0 L1585.2 1423.4 L1605.3 1410.6 L1623.0 1401.6 L1642.6 1404.4 L1662.5 1400.4 L1683.0 1397.3 L1700.7 1425.5 L1719.9 1429.3 L1739.5 1423.0 L1759.7 1433.9 L1778.3 1423.7 L1798.2 1422.4 L1817.8 1435.8 L1838.0 1439.2 L1856.6 1440.1 L1875.8 1440.1 L1895.4 1446.0 L1915.0 1478.6 L1932.7 1474.3 L1952.9 1465.9 L1973.0 1474.3 L1992.6 1482.4 L2011.2 1469.0 L2031.1 1465.9 L2050.1 1448.8 L2067.8 1447.6 L2088.0 1431.4 L2108.1 1427.7 L2127.7 1424.0 L2145.7 1433.9 L2165.6 1433.6 L2185.2 1433.9 L2205.0 1447.6 L2223.0 1434.2 L2242.6 1433.0 L2262.8 1417.8 L2283.0 1423.4 L2300.7 1420.6 L2320.2 1435.8 L2340.0 1427.7 L2360.2 1433.6 L2379.4 1446.0 L2398.1 1458.1 L2417.6 1451.9 L2437.8 1443.9 L2455.5 1443.9 L2475.1 1452.5 L2495.3 1432.4 L2515.5 1452.5 L2533.2 1465.9 L2552.7 1455.0 L2573.5 1464.0 L2593.1 1474.3 L2610.8 1490.1 L2630.4 1500.1 L2650.6 1492.3 L2670.7 1492.3 L2688.4 1495.4 L2708.0 1494.2 L2728.2 1495.1 L2747.5 1485.5 L2765.5 1486.7 L2785.3 1479.3 L2804.9 1492.9 L2824.5 1506.9 L2843.1 1515.9 L2863.3 1517.8 L2882.9 1519.3 L2902.1 1521.5 L2920.1 1520.6 L2940.0 1498.2 L2960.5 1502.2" stroke="#7e57c2" stroke-width="2.6" fill="none" stroke-linejoin="round" stroke-linecap="round" />
</g>
<rect x="25" y="67" width="3578" height="1561.5" fill="none" stroke="#f3f3f3" stroke-width="2"/>
<path d="M26 1375.5H3602" stroke="#e0e3eb" stroke-width="2" fill="none"/>
<path d="M3424 68V1628.5M26 1560H3602" stroke="#4a4a4a" stroke-width="2" fill="none"/>
<text x="26.0" y="48.7" font-size="29" fill="#0b0b0d" textLength="193.8" lengthAdjust="spacingAndGlyphs" stroke="#0b0b0d" stroke-width="0.5">Jake_Simmons</text>
<text x="230.1" y="48.7" font-size="29" fill="#0b0b0d" textLength="102.7" lengthAdjust="spacing" stroke="#0b0b0d" stroke-width="0.5">created</text>
<text x="342.9" y="48.7" font-size="29" fill="#0b0b0d" textLength="57.4" lengthAdjust="spacing" stroke="#0b0b0d" stroke-width="0.5">with</text>
<text x="413.0" y="48.7" font-size="29" fill="#0b0b0d" textLength="225.6" lengthAdjust="spacingAndGlyphs" stroke="#0b0b0d" stroke-width="0.5">TradingView.com,</text>
<text x="658.5" y="48.7" font-size="29" fill="#0b0b0d" textLength="48.2" lengthAdjust="spacingAndGlyphs" stroke="#0b0b0d" stroke-width="0.5">Mar</text>
<text x="717.3" y="48.7" font-size="29" fill="#0b0b0d" textLength="37.2" lengthAdjust="spacingAndGlyphs" stroke="#0b0b0d" stroke-width="0.5">19,</text>
<text x="768.9" y="48.7" font-size="29" fill="#0b0b0d" textLength="60.0" lengthAdjust="spacingAndGlyphs" stroke="#0b0b0d" stroke-width="0.5">2026</text>
<text x="840.4" y="48.7" font-size="29" fill="#0b0b0d" textLength="73.2" lengthAdjust="spacing" stroke="#0b0b0d" stroke-width="0.5">05:39</text>
<text x="925.2" y="48.7" font-size="29" fill="#0b0b0d" textLength="79.8" lengthAdjust="spacingAndGlyphs" stroke="#0b0b0d" stroke-width="0.5">UTC-4</text>
<text x="46.3" y="115.6" font-size="29" fill="#505050" textLength="90.8" lengthAdjust="spacing" stroke="#505050" stroke-width="0.3">Bitcoin</text>
<text x="150.5" y="115.6" font-size="29" fill="#505050" textLength="10.4" lengthAdjust="spacing" stroke="#505050" stroke-width="0.3">/</text>
<text x="172.7" y="115.6" font-size="29" fill="#505050" textLength="119.3" lengthAdjust="spacingAndGlyphs" stroke="#505050" stroke-width="0.3">TetherUS</text>
<text x="325.1" y="115.6" font-size="29" fill="#505050" textLength="38.0" lengthAdjust="spacingAndGlyphs" stroke="#505050" stroke-width="0.3">1W</text>
<text x="394.5" y="115.6" font-size="29" fill="#505050" textLength="103.7" lengthAdjust="spacingAndGlyphs" stroke="#505050" stroke-width="0.3">Binance</text>
<text x="518.3" y="115.6" font-size="29" fill="#505050" textLength="18.6" lengthAdjust="spacingAndGlyphs" stroke="#505050" stroke-width="0.3">O</text>
<text x="536.9" y="115.6" font-size="29" fill="#ef5350" textLength="132.8" lengthAdjust="spacing" stroke="#ef5350" stroke-width="0.3">72,815.25</text>
<text x="688.9" y="115.6" font-size="29" fill="#505050" textLength="18.6" lengthAdjust="spacingAndGlyphs" stroke="#505050" stroke-width="0.3">H</text>
<text x="707.5" y="115.6" font-size="29" fill="#ef5350" textLength="132.8" lengthAdjust="spacing" stroke="#ef5350" stroke-width="0.3">76,000.00</text>
<text x="860.0" y="115.6" font-size="29" fill="#505050" textLength="13.5" lengthAdjust="spacingAndGlyphs" stroke="#505050" stroke-width="0.3">L</text>
<text x="873.5" y="115.6" font-size="29" fill="#ef5350" textLength="132.1" lengthAdjust="spacing" stroke="#ef5350" stroke-width="0.3">69,478.51</text>
<text x="1024.9" y="115.6" font-size="29" fill="#505050" textLength="18.6" lengthAdjust="spacingAndGlyphs" stroke="#505050" stroke-width="0.3">C</text>
<text x="1043.5" y="115.6" font-size="29" fill="#ef5350" textLength="132.8" lengthAdjust="spacing" stroke="#ef5350" stroke-width="0.3">70,394.06</text>
<text x="1196.0" y="115.6" font-size="29" fill="#ef5350" textLength="129.8" lengthAdjust="spacing" stroke="#ef5350" stroke-width="0.3">−2,421.18</text>
<text x="1338.2" y="115.6" font-size="29" fill="#ef5350" textLength="111.8" lengthAdjust="spacingAndGlyphs" stroke="#ef5350" stroke-width="0.3">(−3.33%)</text>
<g fill="#505050"><circle cx="308" cy="107.1" r="2.5"/><circle cx="378.2" cy="107.1" r="2.5"/><circle cx="99.85" cy="149" r="2.5"/></g>
<text x="45.7" y="157.5" font-size="29" fill="#505050" textLength="38.5" lengthAdjust="spacingAndGlyphs" stroke="#505050" stroke-width="0.3">Vol</text>
<text x="116.2" y="157.5" font-size="29" fill="#505050" textLength="49.5" lengthAdjust="spacingAndGlyphs" stroke="#505050" stroke-width="0.3">BTC</text>
<text x="186.3" y="157.5" font-size="29" fill="#ef5350" textLength="97.3" lengthAdjust="spacingAndGlyphs" stroke="#ef5350" stroke-width="0.3">85.13 K</text>
<text x="46.3" y="199.7" font-size="29" fill="#505050" textLength="53.5" lengthAdjust="spacingAndGlyphs" stroke="#505050" stroke-width="0.3">EMA</text>
<text x="109.8" y="199.7" font-size="29" fill="#505050" textLength="204.3" lengthAdjust="spacing" stroke="#505050" stroke-width="0.3">20/50/100/200</text>
<text x="333.0" y="199.7" font-size="29" fill="#ff0000" textLength="131.7" lengthAdjust="spacing" stroke="#ff0000" stroke-width="0.3">81,856.43</text>
<text x="484.5" y="199.7" font-size="29" fill="#ff8000" textLength="131.5" lengthAdjust="spacing" stroke="#ff8000" stroke-width="0.3">89,589.72</text>
<text x="634.7" y="199.7" font-size="29" fill="#00ffff" textLength="131.6" lengthAdjust="spacing" stroke="#00ffff" stroke-width="0.3">83,772.81</text>
<text x="786.0" y="199.7" font-size="29" fill="#0000ff" textLength="132.9" lengthAdjust="spacing" stroke="#0000ff" stroke-width="0.3">68,091.00</text>
<text x="46.5" y="1425.8" font-size="29" fill="#505050" textLength="37.0" lengthAdjust="spacingAndGlyphs" stroke="#505050" stroke-width="0.3">RSI</text>
<text x="96.0" y="1425.8" font-size="29" fill="#505050" textLength="48.4" lengthAdjust="spacingAndGlyphs" stroke="#505050" stroke-width="0.3">(14,</text>
<text x="157.1" y="1425.8" font-size="29" fill="#505050" textLength="77.6" lengthAdjust="spacing" stroke="#505050" stroke-width="0.3">close)</text>
<text x="257.1" y="1425.8" font-size="29" fill="#7e57c2" textLength="70.9" lengthAdjust="spacingAndGlyphs" stroke="#7e57c2" stroke-width="0.3">34.58</text>
<text x="349.3" y="1425.8" font-size="29" fill="#ffeb3b" textLength="70.5" lengthAdjust="spacingAndGlyphs" stroke="#ffeb3b" stroke-width="0.3">34.53</text>
<g stroke="#505050" stroke-width="2.2" fill="none"><circle cx="454.1" cy="1415.6" r="8.8"/><path d="M444.6 1426.7L463.6 1404.4"/></g>
<g stroke="#505050" stroke-width="2.2" fill="none"><circle cx="501.9" cy="1415.6" r="8.8"/><path d="M492.4 1426.7L511.4 1404.4"/></g>
<text x="3446.5" y="237.6" font-size="27" fill="#505050" textLength="132.1" lengthAdjust="spacingAndGlyphs" stroke="#505050" stroke-width="0.3">110,000.00</text>
<text x="3446.5" y="341.6" font-size="27" fill="#505050" textLength="119.3" lengthAdjust="spacingAndGlyphs" stroke="#505050" stroke-width="0.3">95,000.00</text>
<text x="3446.5" y="435.6" font-size="27" fill="#505050" textLength="119.3" lengthAdjust="spacingAndGlyphs" stroke="#505050" stroke-width="0.3">83,000.00</text>
<text x="3446.5" y="508.6" font-size="27" fill="#505050" textLength="119.3" lengthAdjust="spacingAndGlyphs" stroke="#505050" stroke-width="0.3">75,000.00</text>
<text x="3446.5" y="672.6" font-size="27" fill="#505050" textLength="119.3" lengthAdjust="spacingAndGlyphs" stroke="#505050" stroke-width="0.3">59,500.00</text>
<text x="3446.5" y="767.6" font-size="27" fill="#505050" textLength="119.3" lengthAdjust="spacingAndGlyphs" stroke="#505050" stroke-width="0.3">52,000.00</text>
<text x="3446.5" y="853.6" font-size="27" fill="#505050" textLength="119.3" lengthAdjust="spacingAndGlyphs" stroke="#505050" stroke-width="0.3">46,000.00</text>
<text x="3446.5" y="952.6" font-size="27" fill="#505050" textLength="119.3" lengthAdjust="spacingAndGlyphs" stroke="#505050" stroke-width="0.3">40,000.00</text>
<text x="3446.5" y="1027.6" font-size="27" fill="#505050" textLength="119.3" lengthAdjust="spacingAndGlyphs" stroke="#505050" stroke-width="0.3">36,000.00</text>
<text x="3446.5" y="1110.6" font-size="27" fill="#505050" textLength="119.3" lengthAdjust="spacingAndGlyphs" stroke="#505050" stroke-width="0.3">32,000.00</text>
<text x="3446.5" y="1203.6" font-size="27" fill="#505050" textLength="119.3" lengthAdjust="spacingAndGlyphs" stroke="#505050" stroke-width="0.3">28,000.00</text>
<text x="3446.5" y="1278.6" font-size="27" fill="#505050" textLength="119.3" lengthAdjust="spacingAndGlyphs" stroke="#505050" stroke-width="0.3">25,200.00</text>
<text x="3446.5" y="1349.6" font-size="27" fill="#505050" textLength="119.3" lengthAdjust="spacingAndGlyphs" stroke="#505050" stroke-width="0.3">22,800.00</text>
<text x="3446.5" y="1405.0" font-size="27" fill="#505050" textLength="66.8" lengthAdjust="spacingAndGlyphs" stroke="#505050" stroke-width="0.3">80.00</text>
<text x="3446.5" y="1499.4" font-size="27" fill="#505050" textLength="66.8" lengthAdjust="spacingAndGlyphs" stroke="#505050" stroke-width="0.3">40.00</text>
<rect x="3433" y="77" width="160" height="64" rx="9" fill="#fff" stroke="#f0f1f2" stroke-width="1.8"/>
<text x="3457.6" y="117.8" font-size="30" fill="#0a0a0a" textLength="68.1" lengthAdjust="spacingAndGlyphs" stroke="#0a0a0a" stroke-width="0.3">USDT</text>
<path d="M3296 525H3424V565H3296a4 4 0 0 1 -4 -4V529a4 4 0 0 1 4 -4Z" fill="#ef5350"/>
<path d="M3424 525H3574a4 4 0 0 1 4 4V593a4 4 0 0 1 -4 4H3424Z" fill="#ef5350"/>
<path d="M3424 520V602" stroke="#4a4a4a" stroke-width="2" fill="none"/>
<text x="3302.4" y="554.8" font-size="27" fill="#fff" textLength="110.3" lengthAdjust="spacingAndGlyphs" stroke="#fff" stroke-width="0.6">BTCUSDT</text>
<text x="3446.5" y="552.3" font-size="25.5" fill="#fff" textLength="118.0" lengthAdjust="spacing" stroke="#fff" stroke-width="0.6">70,394.06</text>
<text x="3446.5" y="585.2" font-size="25.5" fill="#fff" textLength="78.8" lengthAdjust="spacing" fill-opacity="0.72" stroke-opacity="0.72" stroke="#fff" stroke-width="0.6">3d 15h</text>
<text x="3019.5" y="143.0" font-size="29.5" fill="#787b86" textLength="194.7" lengthAdjust="spacing" stroke="#787b86" stroke-width="0.3">0 (126,199.00)</text>
<text x="3019.5" y="215.0" font-size="29.5" fill="#f23645" textLength="253.3" lengthAdjust="spacing" stroke="#f23645" stroke-width="0.3">0.236 (114,017.47)</text>
<text x="3019.5" y="263.0" font-size="29.5" fill="#ff9800" textLength="253.3" lengthAdjust="spacing" stroke="#ff9800" stroke-width="0.3">0.382 (106,481.45)</text>
<text x="3019.5" y="305.0" font-size="29.5" fill="#4caf50" textLength="221.7" lengthAdjust="spacing" stroke="#4caf50" stroke-width="0.3">0.5 (100,390.68)</text>
<text x="3019.5" y="349.0" font-size="29.5" fill="#089981" textLength="237.5" lengthAdjust="spacing" stroke="#089981" stroke-width="0.3">0.618 (94,299.92)</text>
<text x="3019.5" y="417.0" font-size="29.5" fill="#00bcd4" textLength="236.0" lengthAdjust="spacing" stroke="#00bcd4" stroke-width="0.3">0.786 (85,628.33)</text>
<text x="3019.5" y="515.0" font-size="29.5" fill="#787b86" textLength="178.2" lengthAdjust="spacing" stroke="#787b86" stroke-width="0.3">1 (74,582.37)</text>
<text x="3019.5" y="662.0" font-size="29.5" fill="#ff9800" textLength="236.0" lengthAdjust="spacing" stroke="#ff9800" stroke-width="0.3">1.272 (60,542.64)</text>
<text x="3019.5" y="754.0" font-size="29.5" fill="#f23645" textLength="236.0" lengthAdjust="spacing" stroke="#f23645" stroke-width="0.3">1.414 (53,213.08)</text>
<text x="3019.5" y="909.0" font-size="29.5" fill="#2962ff" textLength="236.0" lengthAdjust="spacing" stroke="#2962ff" stroke-width="0.3">1.618 (42,683.29)</text>
<text x="31.7" y="1603.7" font-size="27" fill="#505050" textLength="46.6" lengthAdjust="spacingAndGlyphs" stroke="#505050" stroke-width="0.3">May</text>
<text x="211.8" y="1603.7" font-size="27" fill="#505050" textLength="34.5" lengthAdjust="spacingAndGlyphs" stroke="#505050" stroke-width="0.3">Jul</text>
<text x="383.1" y="1603.7" font-size="27" fill="#505050" textLength="41.9" lengthAdjust="spacingAndGlyphs" stroke="#505050" stroke-width="0.3">Sep</text>
<text x="556.2" y="1603.7" font-size="27" fill="#505050" textLength="43.5" lengthAdjust="spacingAndGlyphs" stroke="#505050" stroke-width="0.3">Nov</text>
<text x="702.2" y="1603.7" font-size="27" fill="#505050" textLength="61.5" lengthAdjust="spacing" font-weight="bold">2024</text>
<text x="885.2" y="1603.7" font-size="27" fill="#505050" textLength="43.5" lengthAdjust="spacingAndGlyphs" stroke="#505050" stroke-width="0.3">Mar</text>
<text x="1057.7" y="1603.7" font-size="27" fill="#505050" textLength="46.6" lengthAdjust="spacingAndGlyphs" stroke="#505050" stroke-width="0.3">May</text>
<text x="1218.8" y="1603.7" font-size="27" fill="#505050" textLength="34.5" lengthAdjust="spacingAndGlyphs" stroke="#505050" stroke-width="0.3">Jul</text>
<text x="1390.0" y="1603.7" font-size="27" fill="#505050" textLength="41.9" lengthAdjust="spacingAndGlyphs" stroke="#505050" stroke-width="0.3">Sep</text>
<text x="1563.2" y="1603.7" font-size="27" fill="#505050" textLength="43.5" lengthAdjust="spacingAndGlyphs" stroke="#505050" stroke-width="0.3">Nov</text>
<text x="1728.2" y="1603.7" font-size="27" fill="#505050" textLength="61.5" lengthAdjust="spacing" font-weight="bold">2025</text>
<text x="1892.2" y="1603.7" font-size="27" fill="#505050" textLength="43.5" lengthAdjust="spacingAndGlyphs" stroke="#505050" stroke-width="0.3">Mar</text>
<text x="2064.7" y="1603.7" font-size="27" fill="#505050" textLength="46.6" lengthAdjust="spacingAndGlyphs" stroke="#505050" stroke-width="0.3">May</text>
<text x="2245.8" y="1603.7" font-size="27" fill="#505050" textLength="34.5" lengthAdjust="spacingAndGlyphs" stroke="#505050" stroke-width="0.3">Jul</text>
<text x="2397.1" y="1603.7" font-size="27" fill="#505050" textLength="41.9" lengthAdjust="spacingAndGlyphs" stroke="#505050" stroke-width="0.3">Sep</text>
<text x="2570.2" y="1603.7" font-size="27" fill="#505050" textLength="43.5" lengthAdjust="spacingAndGlyphs" stroke="#505050" stroke-width="0.3">Nov</text>
<text x="2735.2" y="1603.7" font-size="27" fill="#505050" textLength="61.5" lengthAdjust="spacing" font-weight="bold">2026</text>
<text x="2899.2" y="1603.7" font-size="27" fill="#505050" textLength="43.5" lengthAdjust="spacingAndGlyphs" stroke="#505050" stroke-width="0.3">Mar</text>
<text x="3071.7" y="1603.7" font-size="27" fill="#505050" textLength="46.6" lengthAdjust="spacingAndGlyphs" stroke="#505050" stroke-width="0.3">May</text>
<text x="3252.8" y="1603.7" font-size="27" fill="#505050" textLength="34.5" lengthAdjust="spacingAndGlyphs" stroke="#505050" stroke-width="0.3">Jul</text>
<g fill="#0f0f0f"><path d="M29.8 1684.1H59.9V1721.3H44.7V1698.7H29.8Z"/><circle cx="72.7" cy="1691.2" r="7.7"/><path d="M87.4 1684.1H104.8L89.7 1721.3H72.7Z"/></g>
<text x="122.8" y="1721.3" font-size="54" fill="#0f0f0f" textLength="302.3" lengthAdjust="spacingAndGlyphs" font-weight="bold">TradingView</text>
</svg>
</body></html>
